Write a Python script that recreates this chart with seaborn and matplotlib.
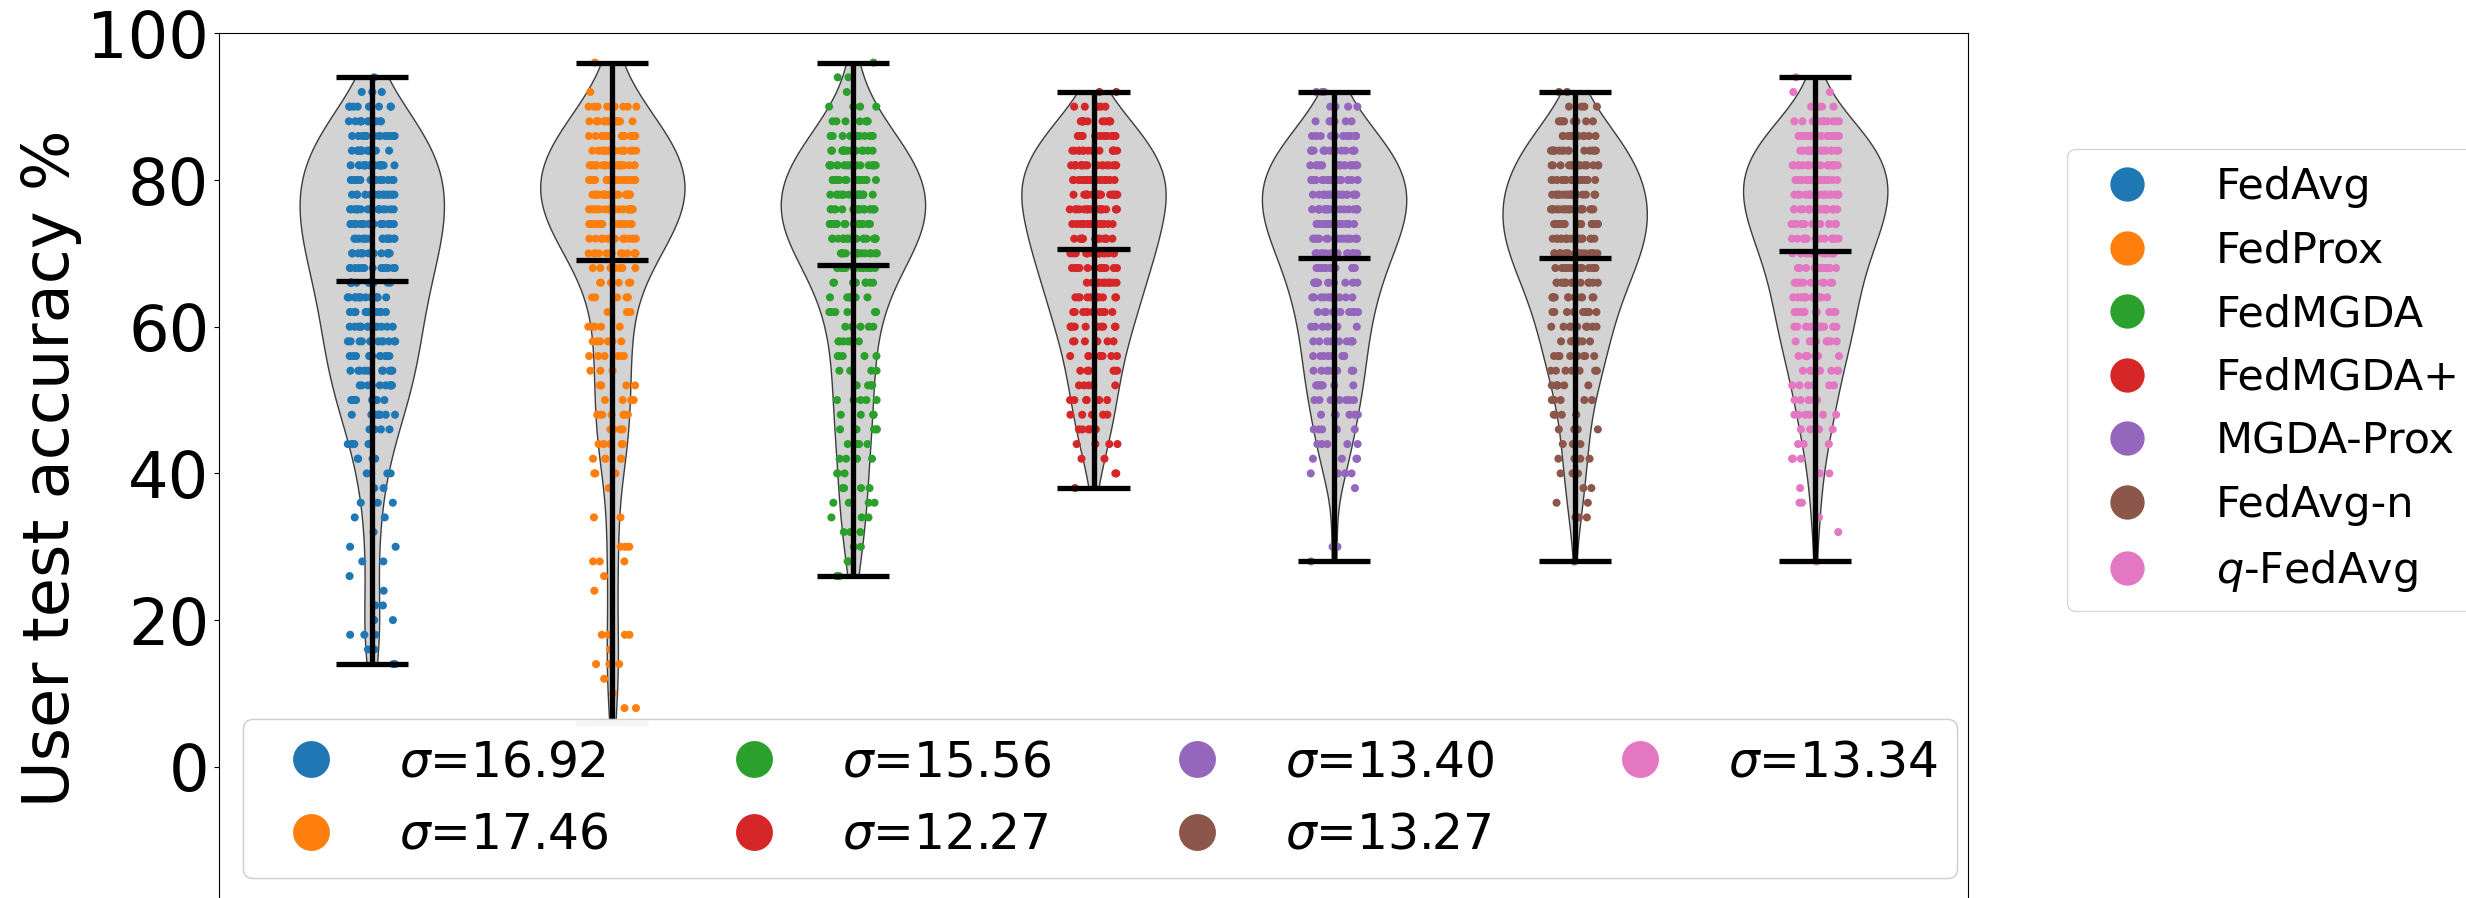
import numpy as np
import pandas as pd
import matplotlib
matplotlib.use("Agg")
import matplotlib.pyplot as plt
import seaborn as sns
from matplotlib.lines import Line2D

# Methods compared, in plotting order
methods = ["FedAvg", "FedProx", "FedMGDA", "FedMGDA+", "MGDA-Prox", "FedAvg-n", "$q$-FedAvg"]
colors = ["#1f77b4", "#ff7f0e", "#2ca02c", "#d62728", "#9467bd", "#8c564b", "#e377c2"]
sigma_labels = ["$\\sigma$=16.92", "$\\sigma$=17.46", "$\\sigma$=15.56", "$\\sigma$=12.27",
                "$\\sigma$=13.40", "$\\sigma$=13.27", "$\\sigma$=13.34"]
yticks = [0, 20, 40, 60, 80, 100]

# Per-user test accuracy (%), given as accuracy level -> number of users at that level
fedavg_acc = [94, 92, 90, 88, 86, 84, 82, 80, 78, 76, 74, 72, 70, 68, 66, 64, 62, 60, 58, 56,
              54, 52, 50, 48, 46, 44, 42, 40, 38, 36, 34, 32, 30, 28, 26, 24, 22, 20, 18, 16, 14]
fedavg_users = [1, 3, 9, 12, 14, 15, 18, 19, 18, 18, 18, 17, 16, 15, 14, 13, 12, 12, 12, 11,
                11, 10, 9, 8, 6, 5, 4, 4, 2, 3, 2, 1, 2, 2, 1, 1, 2, 2, 3, 2, 2]

fedprox_acc = [96, 92, 90, 88, 86, 84, 82, 80, 78, 76, 74, 72, 70, 68, 66, 64, 62, 60, 58, 56,
               54, 52, 50, 48, 46, 44, 42, 40, 38, 34, 30, 28, 26, 24, 18, 16, 14, 12, 10, 8, 6]
fedprox_users = [1, 1, 10, 14, 18, 20, 23, 24, 24, 23, 20, 17, 13, 9, 6, 5, 3, 5, 7, 6,
                 3, 5, 4, 7, 4, 5, 5, 3, 1, 2, 3, 3, 1, 1, 4, 1, 3, 1, 1, 2, 1]

fedmgda_acc = [96, 94, 92, 90, 88, 86, 84, 82, 80, 78, 76, 74, 72, 70, 68, 66, 64, 62, 60, 58,
               56, 54, 52, 50, 48, 46, 44, 42, 40, 38, 36, 34, 32, 30, 28, 26]
fedmgda_users = [1, 2, 1, 4, 7, 11, 15, 18, 18, 20, 20, 20, 18, 15, 12, 9, 8, 7, 6, 6,
                 5, 5, 5, 5, 5, 5, 4, 4, 3, 4, 4, 3, 3, 2, 2, 2]

fedmgda_plus_acc = [92, 90, 88, 86, 84, 82, 80, 78, 76, 74, 72, 70, 68, 66, 64, 62, 60, 58,
                    56, 54, 52, 50, 48, 46, 44, 42, 40, 38]
fedmgda_plus_users = [2, 5, 11, 13, 16, 18, 20, 20, 18, 17, 16, 17, 14, 12, 13, 11, 10, 8,
                      8, 7, 6, 6, 5, 5, 4, 2, 2, 1]

mgda_prox_acc = [92, 90, 88, 86, 84, 82, 80, 78, 76, 74, 72, 70, 68, 66, 64, 62, 60, 58,
                 56, 54, 52, 50, 48, 46, 44, 42, 40, 38, 30, 28]
mgda_prox_users = [3, 4, 8, 12, 16, 19, 20, 20, 20, 19, 17, 15, 13, 12, 11, 10, 9, 9,
                   8, 8, 8, 7, 6, 5, 5, 4, 4, 1, 2, 1]

fedavg_n_acc = [92, 90, 88, 86, 84, 82, 80, 78, 76, 74, 72, 70, 68, 66, 64, 62, 60, 58,
                56, 54, 52, 50, 48, 46, 44, 42, 40, 38, 36, 34, 28]
fedavg_n_users = [2, 4, 8, 12, 15, 17, 18, 20, 20, 20, 19, 18, 16, 14, 12, 11, 10, 9,
                  8, 8, 6, 5, 4, 4, 3, 4, 3, 2, 2, 3, 1]

q_fedavg_acc = [94, 92, 90, 88, 86, 84, 82, 80, 78, 76, 74, 72, 70, 68, 66, 64, 62, 60, 58,
                56, 54, 52, 50, 48, 46, 44, 42, 40, 38, 36, 34, 32, 28]
q_fedavg_users = [1, 2, 4, 11, 15, 18, 20, 21, 20, 20, 18, 16, 15, 13, 12, 11, 11, 11, 9,
                  8, 8, 6, 5, 6, 4, 3, 3, 2, 1, 2, 1, 1, 1]

accs = [fedavg_acc, fedprox_acc, fedmgda_acc, fedmgda_plus_acc,
        mgda_prox_acc, fedavg_n_acc, q_fedavg_acc]
users = [fedavg_users, fedprox_users, fedmgda_users, fedmgda_plus_users,
         mgda_prox_users, fedavg_n_users, q_fedavg_users]

df = pd.concat(
    [pd.DataFrame({"method": m, "acc": np.repeat(np.asarray(a, float), n)})
     for m, a, n in zip(methods, accs, users)],
    ignore_index=True,
)

# Figure layout (pixels at 100 dpi)
FIG_W, FIG_H = 2466, 898
fig = plt.figure(figsize=(FIG_W / 100, FIG_H / 100), dpi=100)
ax_left, ax_right, ax_top = 219, 1968, 33.3
y_lo, y_hi = -18.5, 100
px_per_unit = 7.335
ax_h = (y_hi - y_lo) * px_per_unit
ax = fig.add_axes([ax_left / FIG_W, (FIG_H - ax_top - ax_h) / FIG_H,
                   (ax_right - ax_left) / FIG_W, ax_h / FIG_H])

# Gray density bodies
sns.violinplot(data=df, x="method", y="acc", order=methods, color="lightgray",
               saturation=1, linecolor="#3c3c3c", linewidth=1.0, inner=None, cut=0,
               density_norm="width", width=0.6, bw_method="scott", ax=ax)

# Individual users
np.random.seed(3)
sns.stripplot(data=df, x="method", y="acc", order=methods, hue="method",
              hue_order=methods, palette=colors, jitter=0.1, size=5.8, linewidth=0,
              legend=False, ax=ax, zorder=2)

# Min / max / mean bars and range line
stats = df.groupby("method")["acc"].agg(["min", "max", "mean"]).reindex(methods)
pos = np.arange(len(methods))
half = 0.15
ax.vlines(pos, stats["min"], stats["max"], color="black", lw=3.8, zorder=3)
for col in ["min", "max", "mean"]:
    ax.hlines(stats[col], pos - half, pos + half, color="black", lw=3.8, zorder=3)

ax.set_xlim(-0.635, 6.635)
ax.set_ylim(y_lo, y_hi)
ax.set_xticks([])
ax.set_xlabel("")
ax.set_yticks(yticks)
ax.tick_params(axis="y", labelsize=46)
ax.set_ylabel("User test accuracy %", fontsize=46)

# Standard deviation legend inside the axes
sig_handles = [Line2D([], [], marker="o", ls="", color=c, markersize=26.5,
                      markeredgewidth=0) for c in colors]
leg_sig = ax.legend(sig_handles, sigma_labels, loc="lower center",
                    bbox_to_anchor=(0.5037, 0.0), ncol=4, fontsize=35)
ax.add_artist(leg_sig)

# Method legend to the right of the axes
m_handles = [Line2D([], [], marker="o", ls="", color=c, markersize=24.7,
                    markeredgewidth=0) for c in colors]
fig.legend(m_handles, methods, loc="center left",
           bbox_to_anchor=(2067 / FIG_W, 1 - 380 / FIG_H), borderaxespad=0,
           fontsize=31, handletextpad=1.05)

fig.savefig("out.png", dpi=100)
